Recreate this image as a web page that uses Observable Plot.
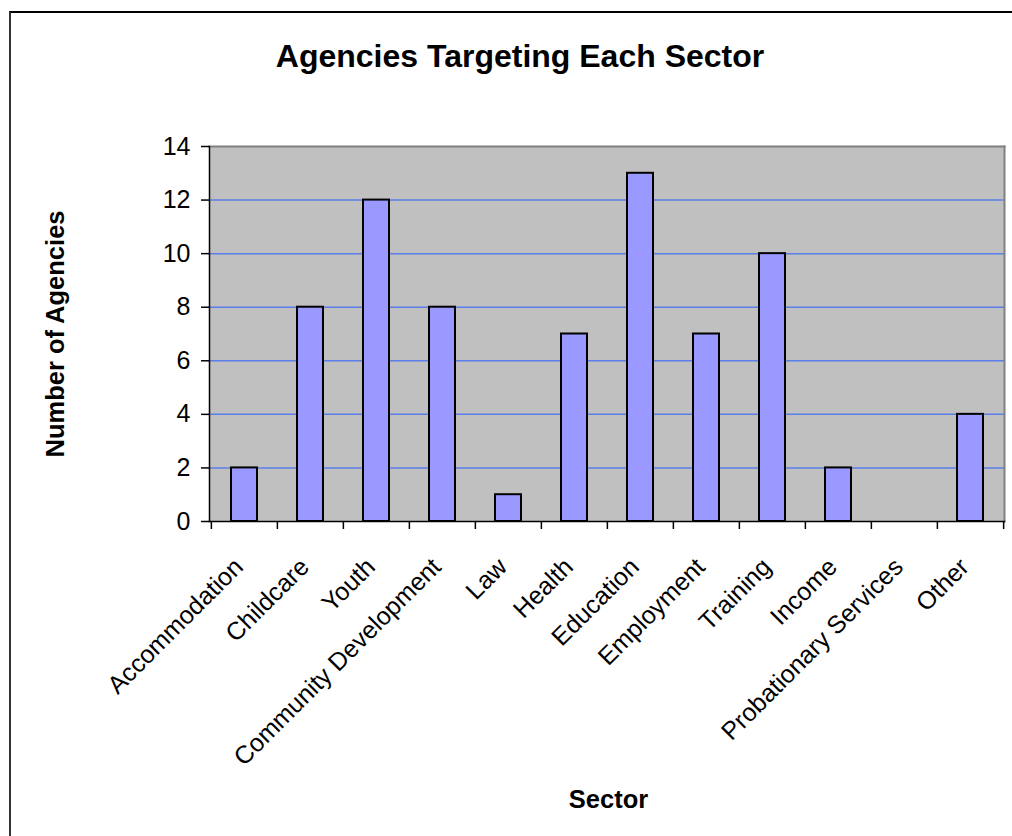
<!DOCTYPE html>
<html>
<head>
<meta charset="utf-8">
<script src="https://cdn.jsdelivr.net/npm/d3@7"></script>
<script src="https://cdn.jsdelivr.net/npm/@observablehq/plot@0.6"></script>
<style>
  html, body { margin: 0; padding: 0; background: #fff; }
  #wrap { position: relative; width: 1012px; height: 836px; overflow: hidden; font-family: "Liberation Sans", Arial, sans-serif; }
  #border { position: absolute; left: 9px; top: 11px; width: 1100px; height: 900px; border-top: 2px solid #000; border-left: 2px solid #333; }
  #title { position: absolute; left: 0; top: 40px; width: 1040px; text-align: center; font-size: 32px; line-height: 32px; font-weight: bold; color: #000; }
  #chart { position: absolute; left: 0; top: 0; }
</style>
</head>
<body>
<div id="wrap">
  <div id="border"></div>
  <div id="chart"></div>
  <div id="title">Agencies Targeting Each Sector</div>
</div>
<script>
const sectors = ["Accommodation", "Childcare", "Youth", "Community Development", "Law", "Health", "Education", "Employment", "Training", "Income", "Probationary Services", "Other"];
const counts = [2, 8, 12, 8, 1, 7, 13, 7, 10, 2, 0, 4];
const yTicks = [0, 2, 4, 6, 8, 10, 12, 14];
const gridValues = [2, 4, 6, 8, 10, 12];
const yLabel = "Number of Agencies";
const xLabel = "Sector";

const data = sectors.map((s, i) => ({sector: s, count: counts[i]}));

const W = 1012, H = 836;
const mL = 209, mR = 8, mT = 146, mB = 315;
const step = (W - mL - mR) / sectors.length;
const font = "Liberation Sans, Arial, sans-serif";

const chart = Plot.plot({
  width: W,
  height: H,
  marginLeft: mL,
  marginRight: mR,
  marginTop: mT,
  marginBottom: mB,
  style: {fontFamily: font, background: "transparent", overflow: "visible", color: "#000"},
  x: {domain: sectors, padding: 0, axis: null},
  y: {domain: [0, 14], axis: null},
  marks: [
    Plot.frame({fill: "#c0c0c0", stroke: null}),
    Plot.ruleY(gridValues, {stroke: "#5b7fe8", strokeWidth: 1.5}),
    Plot.barY(data.filter(d => d.count > 0), {x: "sector", y: "count", fill: "#9999ff", stroke: "#000", strokeWidth: 2, insetLeft: 20, insetRight: 20}),
    Plot.frame({anchor: "top", stroke: "#808080", strokeWidth: 2}),
    Plot.frame({anchor: "right", stroke: "#808080", strokeWidth: 2}),
    Plot.frame({anchor: "left", stroke: "#000", strokeWidth: 1.5}),
    Plot.frame({anchor: "bottom", stroke: "#000", strokeWidth: 1.5}),
    Plot.axisY({ticks: yTicks, tickSize: 8, tickPadding: 11, fontSize: 25, label: null, stroke: "#000", strokeWidth: 1.5}),
    Plot.axisX({tickSize: 8, dx: -step / 2, tickFormat: () => "", label: null, stroke: "#000", strokeWidth: 1.5}),
    Plot.axisX({ticks: [sectors[sectors.length - 1]], tickSize: 8, dx: step / 2, tickFormat: () => "", label: null, stroke: "#000", strokeWidth: 1.5}),
    Plot.text(sectors, {x: d => d, frameAnchor: "bottom", dy: 47, rotate: -45, textAnchor: "end", lineAnchor: "bottom", fontSize: 25, fill: "#000"}),
    Plot.text([yLabel], {frameAnchor: "left", dx: -(mL - 63), rotate: -90, lineAnchor: "bottom", textAnchor: "middle", fontSize: 25.5, fontWeight: "bold", fill: "#000"}),
    Plot.text([xLabel], {frameAnchor: "bottom", dx: 1.5, dy: 807 - (H - mB), lineAnchor: "bottom", textAnchor: "middle", fontSize: 25.5, fontWeight: "bold", fill: "#000"})
  ]
});
document.getElementById("chart").appendChild(chart);
</script>
</body>
</html>
